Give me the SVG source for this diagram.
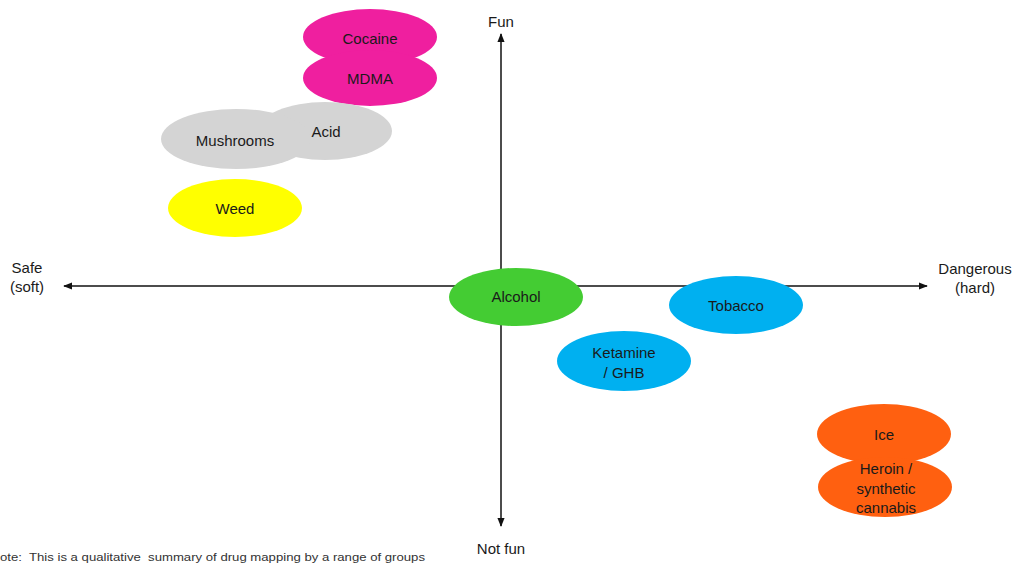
<svg xmlns="http://www.w3.org/2000/svg" width="1017" height="566" viewBox="0 0 1017 566">
<style>
text{font-family:"Liberation Sans",Arial,sans-serif;font-size:15px;fill:#1a1a1a;text-anchor:middle}
.ax{stroke:#111;stroke-width:1.5;fill:none}
.pink{fill:#ef1f9f}
.grey{fill:#d4d4d4}
.yel{fill:#ffff00}
.grn{fill:#44cc33}
.blu{fill:#00b0f0}
.org{fill:#ff6010}
.note{font-size:11px;text-anchor:start;fill:#333}
</style>
<defs>
<marker id="ah" viewBox="0 0 10 10" refX="9" refY="5" markerWidth="6" markerHeight="6" orient="auto-start-reverse" markerUnits="strokeWidth">
<path d="M0,1 L10,5 L0,9 z" fill="#111"/>
</marker>
</defs>
<rect width="1017" height="566" fill="#fff"/>
<g id="connectors">
<line class="ax" x1="501" y1="34" x2="501" y2="526" marker-start="url(#ah)" marker-end="url(#ah)"/>
<line class="ax" x1="64" y1="286" x2="927" y2="286" marker-start="url(#ah)" marker-end="url(#ah)"/>
</g>
<g id="axis-labels">
<text x="501" y="27">Fun</text>
<text x="501" y="554">Not fun</text>
<text x="27" y="273">Safe</text>
<text x="27" y="292">(soft)</text>
<text x="975" y="274">Dangerous</text>
<text x="975" y="293">(hard)</text>
</g>
<g id="cocaine"><ellipse class="pink" cx="370" cy="37" rx="67" ry="28"/></g>
<g id="mdma"><ellipse class="pink" cx="370" cy="78" rx="67" ry="28"/></g>
<g id="cocaine-label"><text x="370" y="44">Cocaine</text></g>
<g id="mdma-label"><text x="370" y="84">MDMA</text></g>
<g id="acid"><ellipse class="grey" cx="325" cy="131" rx="67" ry="29"/></g>
<g id="mushrooms"><ellipse class="grey" cx="236" cy="139" rx="75" ry="30"/></g>
<g id="acid-label"><text x="326" y="137">Acid</text></g>
<g id="mushrooms-label"><text x="235" y="146">Mushrooms</text></g>
<g id="weed"><ellipse class="yel" cx="235" cy="208" rx="67" ry="29"/><text x="235" y="214">Weed</text></g>
<g id="alcohol"><ellipse class="grn" cx="516" cy="297" rx="67" ry="29"/><text x="516" y="302">Alcohol</text></g>
<g id="tobacco"><ellipse class="blu" cx="736" cy="305" rx="67" ry="29"/><text x="736" y="311">Tobacco</text></g>
<g id="ketamine"><ellipse class="blu" cx="624" cy="361" rx="67" ry="30"/><text x="624" y="358">Ketamine</text><text x="624" y="378">/ GHB</text></g>
<g id="ice"><ellipse class="org" cx="884" cy="434" rx="67" ry="30"/></g>
<g id="heroin"><ellipse class="org" cx="885" cy="487" rx="67" ry="30"/></g>
<g id="ice-label"><text x="884" y="440">Ice</text></g>
<g id="heroin-label"><text x="886" y="474">Heroin /</text><text x="886" y="494">synthetic</text><text x="886" y="513">cannabis</text></g>
<g id="note"><text class="note" x="0" y="561" xml:space="preserve" textLength="425" lengthAdjust="spacingAndGlyphs">ote:  This is a qualitative  summary of drug mapping by a range of groups</text></g>
</svg>
